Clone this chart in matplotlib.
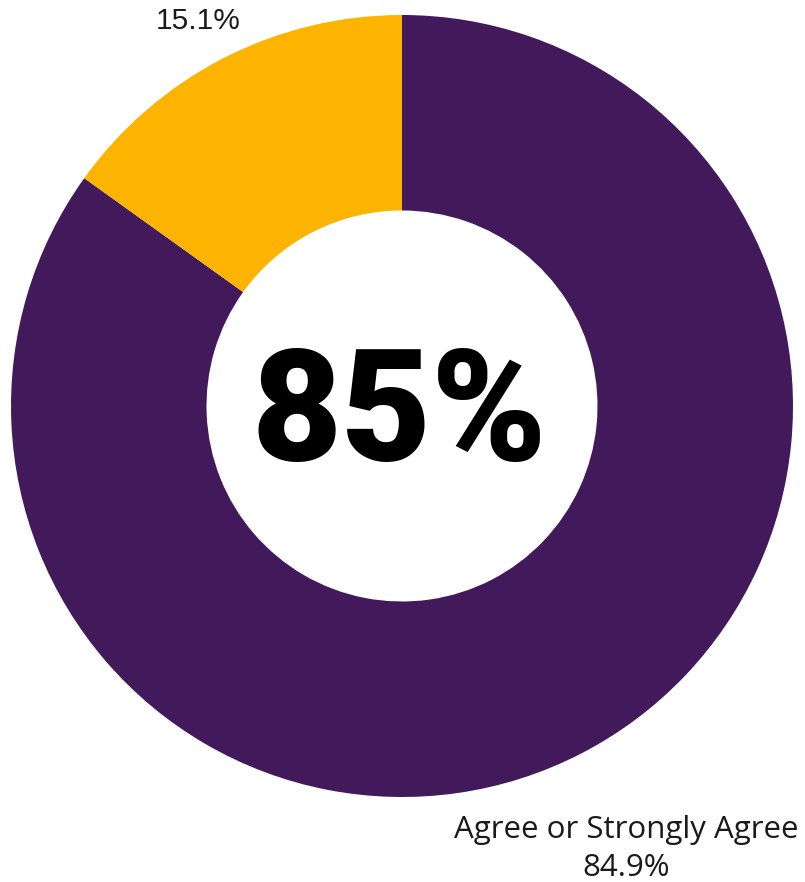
import matplotlib.pyplot as plt

LABELS = ["Agree or Strongly Agree", ""]
SHARES = [84.9, 15.1]
COLORS = ["#42195b", "#fdb400"]
HEADLINE = "85%"

W, H = 805, 882
fig = plt.figure(figsize=(W / 100, H / 100), dpi=100)
fig.patch.set_facecolor("white")

# donut centre (402, 406) px from top-left, outer radius 391 px
cx, cy, r = 402, 406, 391
ax = fig.add_axes([(cx - r) / W, (H - cy - r) / H, 2 * r / W, 2 * r / H])

# purple slice runs clockwise from 12 o'clock, yellow fills the rest
ax.pie(SHARES, colors=COLORS, startangle=90, counterclock=False,
       radius=1.0, wedgeprops=dict(width=0.5, linewidth=0))
ax.set_xlim(-1, 1)
ax.set_ylim(-1, 1)
ax.set_aspect("equal")
ax.axis("off")

# big headline number in the hole
fig.text(399 / W, 1 - 460 / H, HEADLINE, ha="center", va="baseline",
         fontsize=112, fontweight=900, family=["Roboto", "DejaVu Sans"],
         color="black")

fig.text(198 / W, 1 - 21 / H, f"{SHARES[1]:.1f}%", ha="center", va="center",
         fontsize=21.5, family=["Liberation Sans"], color="#1a1a1a")
fig.text(626 / W, 1 - 849 / H, f"{LABELS[0]}\n{SHARES[0]:.1f}%",
         ha="center", va="center", fontsize=22.5, linespacing=1.35,
         family=["Open Sans"], color="#1a1a1a")

fig.savefig("out.png", dpi=100, facecolor="white")
